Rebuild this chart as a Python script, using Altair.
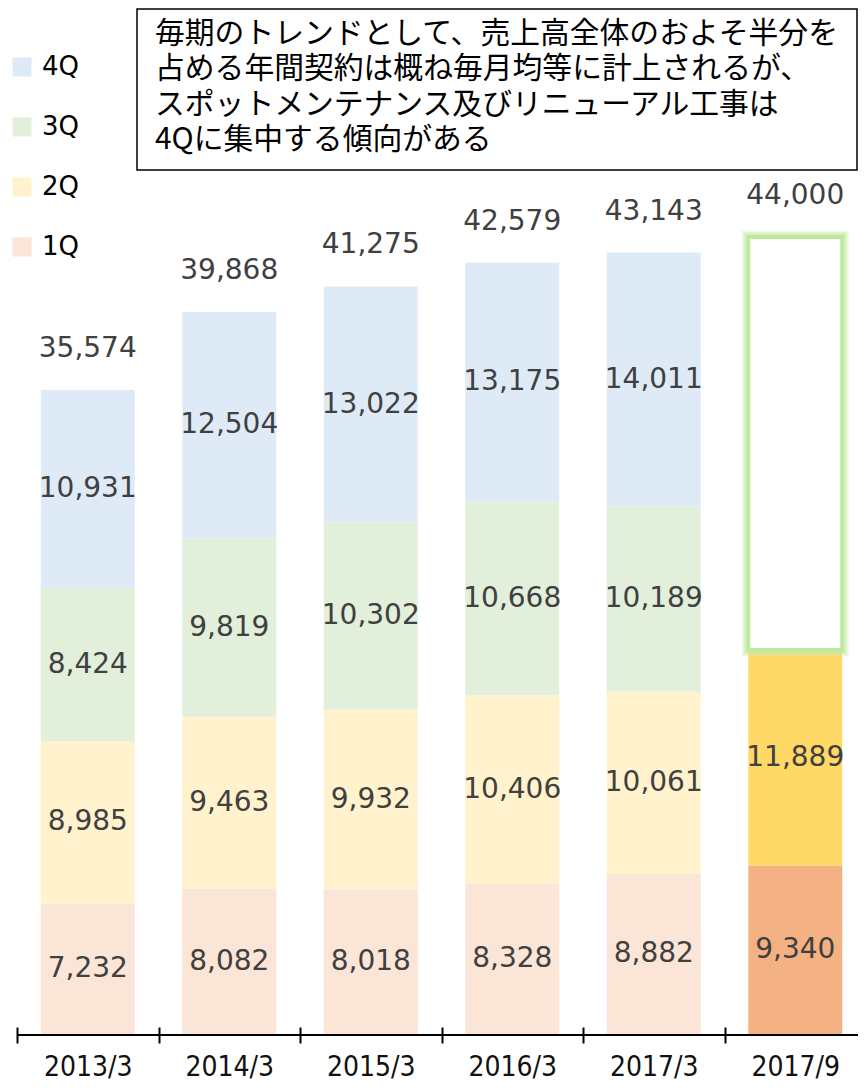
import altair as alt
import pandas as pd

# ---- data ----
periods = ["2013/3", "2014/3", "2015/3", "2016/3", "2017/3", "2017/9"]
quarters = ["1Q", "2Q", "3Q", "4Q"]
q1 = [7232, 8082, 8018, 8328, 8882, 9340]
q2 = [8985, 9463, 9932, 10406, 10061, 11889]
q3 = [8424, 9819, 10302, 10668, 10189, None]
q4 = [10931, 12504, 13022, 13175, 14011, None]
totals = [35574, 39868, 41275, 42579, 43143, 44000]
forecast_period = "2017/9"
note_lines = [
    "毎期のトレンドとして、売上高全体のおよそ半分を",
    "占める年間契約は概ね毎月均等に計上されるが、",
    "スポットメンテナンス及びリニューアル工事は",
    "4Qに集中する傾向がある",
]

color_domain = ["4Q", "3Q", "2Q", "1Q", "2Q (2017/9)", "1Q (2017/9)"]
color_range = ["#deebf7", "#e2efda", "#fff2cc", "#fbe5d6", "#ffd966", "#f4b183"]

# ---- build tables ----
rows = []
box_rows = []
for i, p in enumerate(periods):
    cum = 0
    for qi, (q, vals) in enumerate(zip(quarters, [q1, q2, q3, q4])):
        v = vals[i]
        if v is None:
            continue
        key = q if p != forecast_period else f"{q} ({p})"
        rows.append(dict(period=p, quarter=q, key=key, order=qi, value=v,
                         start=cum, end=cum + v, mid=cum + v / 2))
        cum += v
    if p == forecast_period:
        box_rows.append(dict(period=p, start=cum, end=totals[i]))
seg = pd.DataFrame(rows)
box = pd.DataFrame(box_rows)
tot = pd.DataFrame(dict(period=periods, total=totals))

W, H = 841, 1027
XRANGE = 849
YMAX = 56630
BAND = 0.664
NUM_FONT = "DejaVu Sans"
JP_FONT = "Noto Sans CJK JP"

x_enc = alt.X(
    "period:N",
    sort=periods,
    scale=alt.Scale(domain=periods, paddingInner=0, paddingOuter=0,
                    range=[0, XRANGE]),
    axis=alt.Axis(
        title=None, labelAngle=0, domain=False, tickBand="extent",
        tickColor="black", tickWidth=2, tickSize=16, offset=-8,
        labelFont="DejaVu Sans Condensed, DejaVu Sans", labelFontSize=28,
        labelFontWeight="normal", labelBaseline="alphabetic",
        labelColor="#111111", labelPadding=32, grid=False,
    ),
)
y_scale = alt.Scale(domain=[0, YMAX], nice=False, zero=True)

bars = alt.Chart(seg).mark_bar(width=alt.RelativeBandSize(BAND)).encode(
    x=x_enc,
    y=alt.Y("start:Q", scale=y_scale, axis=None),
    y2="end:Q",
    color=alt.Color(
        "key:N",
        scale=alt.Scale(domain=color_domain, range=color_range),
        legend=alt.Legend(
            orient="none", legendX=-8, legendY=46, title=None,
            values=["4Q", "3Q", "2Q", "1Q"], symbolType="square",
            symbolSize=361, symbolStrokeWidth=0, symbolOpacity=1,
            labelFontSize=26, labelFont=NUM_FONT, labelColor="black",
            rowPadding=34, labelOffset=7, padding=0,
        ),
    ),
    order=alt.Order("order:Q"),
)


def box_layer(stroke, width, opacity, fill=None):
    kw = dict(width=alt.RelativeBandSize(BAND), stroke=stroke,
              strokeWidth=width, strokeOpacity=opacity)
    if fill is None:
        kw.update(fill=None, fillOpacity=0)
    else:
        kw.update(fill=fill)
    return alt.Chart(box).mark_bar(**kw).encode(
        x=x_enc, y=alt.Y("start:Q", scale=y_scale, axis=None), y2="end:Q"
    )


glow_outer = box_layer("#cdeeb4", 13, 0.35)
glow_mid = box_layer("#c6eca6", 9, 0.55)
frame = box_layer("#bfe99c", 4, 1, fill="white")

seg_labels = alt.Chart(seg).mark_text(
    font=NUM_FONT, fontSize=28, color="#404040", baseline="middle",
).encode(
    x=x_enc,
    y=alt.Y("mid:Q", scale=y_scale, axis=None),
    text=alt.Text("value:Q", format=","),
)

tot_labels = alt.Chart(tot).mark_text(
    font=NUM_FONT, fontSize=28, color="#404040", baseline="middle", dy=-41,
).encode(
    x=x_enc,
    y=alt.Y("total:Q", scale=y_scale, axis=None),
    text=alt.Text("total:Q", format=","),
)

baseline = alt.Chart(alt.Data(values=[{"v": 0}])).mark_rule(
    color="black", strokeWidth=2
).encode(y=alt.Y("v:Q", scale=y_scale, axis=None))

note_box = alt.Chart(alt.Data(values=[{}])).mark_rect(
    fill="white", stroke="black", strokeWidth=1.5
).encode(
    x=alt.value(120), x2=alt.value(840), y=alt.value(1), y2=alt.value(162)
)

note_text = alt.Chart(alt.Data(values=[{}])).mark_text(
    text=note_lines, font=JP_FONT, fontSize=29.8, lineHeight=35.3,
    align="left", baseline="alphabetic", color="black",
).encode(x=alt.value(138), y=alt.value(35))

chart = alt.layer(
    bars, glow_outer, glow_mid, frame, seg_labels, tot_labels, baseline,
    note_box, note_text
).properties(
    width=W, height=H,
    autosize=alt.AutoSizeParams(type="none"),
    padding={"left": 9, "top": 0, "right": 0, "bottom": 47},
).configure_view(stroke=None)

chart.save("out.html", embed_options={"renderer": "svg", "actions": False})
